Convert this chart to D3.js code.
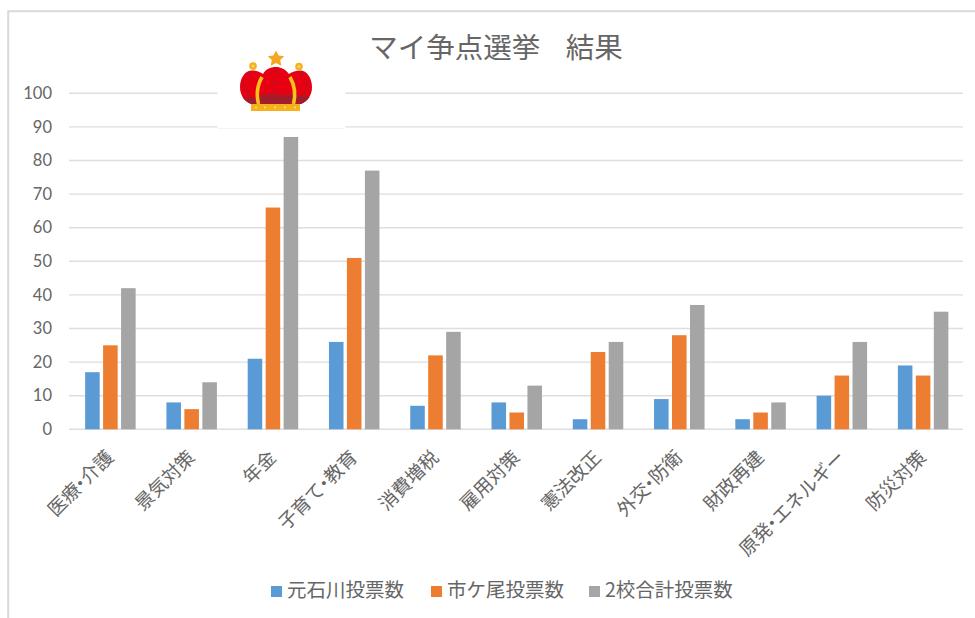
<!DOCTYPE html>
<html lang="ja"><head><meta charset="utf-8">
<script src="https://cdn.jsdelivr.net/npm/d3@7"></script>
<style>
html,body{margin:0;padding:0;background:#fff;overflow:hidden}
svg{display:block}
text{fill:#666;font-family:"Noto Sans CJK JP","Noto Sans",sans-serif}
</style></head><body><div id="chart"></div>
<script>
const categories=["医療・介護","景気対策","年金","子育て・教育","消費増税","雇用対策","憲法改正","外交・防衛","財政再建","原発・エネルギー","防災対策"];
const seriesNames=["元石川投票数","市ケ尾投票数","2校合計投票数"];
const motoishikawa=[17,8,21,26,7,8,3,9,3,10,19];
const ichigao=[25,6,66,51,22,5,23,28,5,16,16];
const total=[42,14,87,77,29,13,26,37,8,26,35];
const seriesValues=[motoishikawa,ichigao,total];
const colors=["#5B9BD5","#ED7D31","#A5A5A5"];
const yTicks=[0,10,20,30,40,50,60,70,80,90,100];
const chartTitle="マイ争点選挙    結果";

const W=975,H=618;
const svg=d3.select("#chart").append("svg").attr("width",W).attr("height",H);
svg.append("path").attr("d","M8.2,618V11.3H975").attr("fill","none").attr("stroke","#d9d9d9").attr("stroke-width",2);
const x=d3.scaleBand().domain(categories).range([69.5,963.5]);
const y=d3.scaleLinear().domain([0,100]).range([429.3,93.3]);
const x1=d3.scaleBand().domain(seriesNames).range([0,50.5]).paddingInner(0.19).paddingOuter(0);
const gridG=svg.append("g");
gridG.selectAll("line").data(yTicks).join("line")
 .attr("x1",69).attr("x2",963).attr("y1",d=>y(d)).attr("y2",d=>y(d))
 .attr("stroke","#dedede").attr("stroke-width",1.4);
const yAxis=d3.axisLeft(y).tickValues(yTicks).tickSize(0).tickPadding(0);
const yG=svg.append("g").attr("transform","translate(52,0)").call(yAxis);
yG.select(".domain").remove();
yG.selectAll("text").style("font-family","Lato,'Open Sans',sans-serif").style("font-size","16.5px").style("fill","#666");
svg.append("rect").attr("x",217.5).attr("y",82).attr("width",128).attr("height",46).attr("fill","#fff");
svg.append("line").attr("x1",218).attr("x2",345).attr("y1",128.3).attr("y2",128.3).attr("stroke","#f2f2f2").attr("stroke-width",1);
seriesNames.forEach((s,si)=>{
 svg.append("g").selectAll("rect").data(seriesValues[si]).join("rect")
  .attr("x",(d,i)=>x(categories[i])+x.bandwidth()/2-25+x1(s))
  .attr("y",d=>y(d)).attr("width",x1.bandwidth()).attr("height",d=>y(0)-y(d))
  .attr("fill",colors[si]);
});
const xAxis=d3.axisBottom(x).tickSize(0).tickPadding(0);
const xG=svg.append("g").attr("transform","translate(0,429)").call(xAxis);
xG.select(".domain").remove();
xG.selectAll("text")
 .style("font-size","18.8px").style("text-anchor","end").attr("dy",null).attr("y",null)
 .attr("transform","translate(1,26) rotate(-45)").attr("dominant-baseline","middle")
 .each(function(d){
   const t=d3.select(this); const parts=d.split("・");
   if(parts.length<2) return;
   t.text(null);
   t.append("tspan").text(parts[0]);
   t.append("tspan").attr("dx","-0.28em").text("・");
   t.append("tspan").attr("dx","-0.28em").text(parts[1]);
 });
svg.append("text").attr("x",496).attr("y",58).attr("text-anchor","middle")
 .style("font-size","28.5px").style("white-space","pre").text(chartTitle);
const legendX=[271,431,589];
const leg=svg.append("g").selectAll("g").data(seriesNames).join("g").attr("transform",(d,i)=>`translate(${legendX[i]},586)`);
leg.append("rect").attr("width",11).attr("height",11).attr("fill",(d,i)=>colors[i]);
leg.append("text").attr("x",16).attr("y",5.5).attr("dominant-baseline","middle").style("font-size","19.5px").text(d=>d);
// crown decoration
const c=svg.append("g");
const bodyPath="M252,70.5C245,70.5 240,78 240,87C240,95 244,101 251,104H301C308,101 312,95 312,87C312,78 307,70.5 300,70.5C296,70.5 292,72 289,74C285,69 281,67 276,67C270,67 266,69 263,74C260,72 256,70.5 252,70.5Z";
svg.append("defs").append("clipPath").attr("id","domes").append("path").attr("d",bodyPath);
c.append("path").attr("d",bodyPath).attr("fill","#e60012");
c.append("path").attr("clip-path","url(#domes)").attr("d","M236,98C244,96 252,100 260,96C270,92 280,97 292,94C300,95 308,98 316,97V110H236Z").attr("fill","#a31c2c");
[[253,66],[299,66.5]].forEach(p=>{
 c.append("circle").attr("cx",p[0]).attr("cy",p[1]).attr("r",3.8).attr("fill","#f5b01c");
 c.append("circle").attr("cx",p[0]).attr("cy",p[1]).attr("r",1.6).attr("fill","#fbd268");
});
c.append("path").attr("d","M276,50.5l2.6,5 5.6,.7-4,3.9 1.1,5.6-5.3-2.8-5.3,2.8 1.1-5.6-4-3.9 5.6-.7z").attr("fill","#f5a623");
[[276,72],[275,82],[275,91],[249,74],[244,84],[302,74],[307,84],[247,92],[305,92]].forEach(p=>{
 c.append("circle").attr("cx",p[0]).attr("cy",p[1]).attr("r",1.4).attr("fill","#a31c2c");
});
c.append("path").attr("d","M258.5,104C256,94 258,84 262,77").attr("fill","none").attr("stroke","#fbc11b").attr("stroke-width",3.6);
c.append("path").attr("d","M293.5,104C296,94 294,84 290,77").attr("fill","none").attr("stroke","#fbc11b").attr("stroke-width",3.6);
c.append("rect").attr("x",251).attr("y",104).attr("width",49).attr("height",7).attr("fill","#f5b01c");
[256,265,275,285,295].forEach(px=>c.append("circle").attr("cx",px).attr("cy",107.5).attr("r",1).attr("fill","#fde08a"));
</script></body></html>
